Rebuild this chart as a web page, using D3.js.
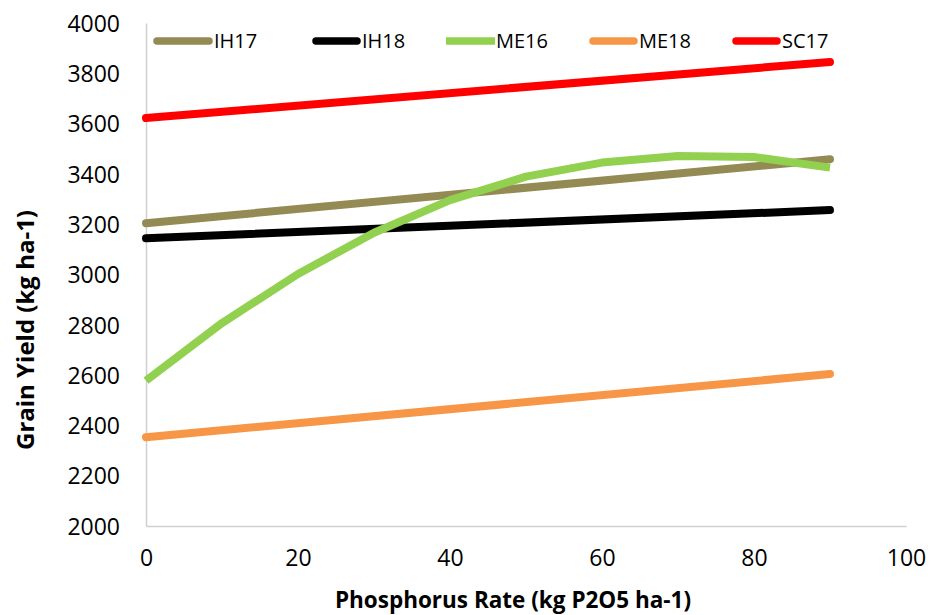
<!DOCTYPE html>
<html>
<head>
<meta charset="utf-8">
<script src="https://cdn.jsdelivr.net/npm/d3@7"></script>
<style>
  body { margin: 0; background: #fff; }
  svg { display: block; font-family: "Open Sans", sans-serif; }
  .tick text { fill: #000; }
  .title { font-weight: bold; fill: #000; }
</style>
</head>
<body>
<svg width="932" height="615"></svg>
<script>
// Series (kg ha-1)
var seriesNames = ['IH17', 'IH18', 'ME16', 'ME18', 'SC17'];
var rates = [0, 10, 20, 30, 40, 50, 60, 70, 80, 90];
var endRates = [0, 90];          // straight-line series only have end points
var ih17 = [3204, 3458];
var ih18 = [3144, 3256];
var me16 = [2578, 2807, 3002, 3166, 3296, 3389, 3445, 3471, 3467, 3425];
var me18 = [2353, 2604];
var sc17 = [3622, 3845];

var xTicks = [0, 20, 40, 60, 80, 100];
var yTicks = [2000, 2200, 2400, 2600, 2800, 3000, 3200, 3400, 3600, 3800, 4000];

var colors = {IH17: '#948a54', IH18: '#000000', ME16: '#92d050', ME18: '#f79646', SC17: '#ff0000'};

var series = [
    {name: 'IH17', x: endRates, y: ih17},
    {name: 'IH18', x: endRates, y: ih18},
    {name: 'ME16', x: rates, y: me16},
    {name: 'ME18', x: endRates, y: me18},
    {name: 'SC17', x: endRates, y: sc17}
];

var svg = d3.select('svg');

var x = d3.scaleLinear().domain([0, 100]).range([146, 906]);
var y = d3.scaleLinear().domain([2000, 4000]).range([526, 23]);

// axes: light grey domain lines, no tick marks
var xAxis = svg.append('g')
    .attr('transform', 'translate(0,526)')
    .call(d3.axisBottom(x).tickValues(xTicks).tickFormat(d3.format('d')).tickSize(0).tickPadding(24));
var yAxis = svg.append('g')
    .attr('transform', 'translate(146,0)')
    .call(d3.axisLeft(y).tickValues(yTicks).tickFormat(d3.format('d')).tickSize(0).tickPadding(26));

[xAxis, yAxis].forEach(function(g) {
    g.select('.domain').attr('stroke', '#d0d0d0').attr('stroke-width', 1.5);
    g.selectAll('.tick text').style('font-size', '23px').style('font-family', '"Open Sans", sans-serif');
});
yAxis.selectAll('.tick text').attr('dy', '0.36em');

var line = d3.line()
    .x(function(d) { return x(d[0]); })
    .y(function(d) { return y(d[1]); });

svg.append('g').selectAll('path')
    .data(series)
    .enter()
    .append('path')
    .attr('d', function(s) { return line(d3.zip(s.x, s.y)); })
    .attr('fill', 'none')
    .attr('stroke', function(s) { return colors[s.name]; })
    .attr('stroke-width', 8)
    .attr('stroke-linecap', function(s) { return s.name === 'ME16' ? 'butt' : 'round'; })
    .attr('stroke-linejoin', 'round');

// legend
var legendLeft = [153, 312, 446, 589, 732];
var legendLen = [60, 49, 49, 49, 49];
var legend = svg.append('g').selectAll('g')
    .data(seriesNames)
    .enter()
    .append('g');

legend.append('line')
    .attr('x1', function(d, i) { return legendLeft[i] + (d === 'ME16' ? 0 : 4); })
    .attr('x2', function(d, i) { return legendLeft[i] + legendLen[i] - (d === 'ME16' ? 0 : 4); })
    .attr('y1', 41)
    .attr('y2', 41)
    .attr('stroke', function(d) { return colors[d]; })
    .attr('stroke-width', 7.5)
    .attr('stroke-linecap', function(d) { return d === 'ME16' ? 'butt' : 'round'; });

legend.append('text')
    .attr('x', function(d, i) { return legendLeft[i] + legendLen[i] + 1; })
    .attr('y', 48)
    .style('font-size', '20px')
    .text(function(d) { return d; });

// axis titles
svg.append('text')
    .attr('class', 'title')
    .attr('x', 513)
    .attr('y', 608)
    .attr('text-anchor', 'middle')
    .style('font-size', '22.5px')
    .text('Phosphorus Rate (kg P2O5 ha-1)');

svg.append('text')
    .attr('class', 'title')
    .attr('transform', 'translate(34,330) rotate(-90)')
    .attr('text-anchor', 'middle')
    .style('font-size', '24px')
    .text('Grain Yield (kg ha-1)');
</script>
</body>
</html>
